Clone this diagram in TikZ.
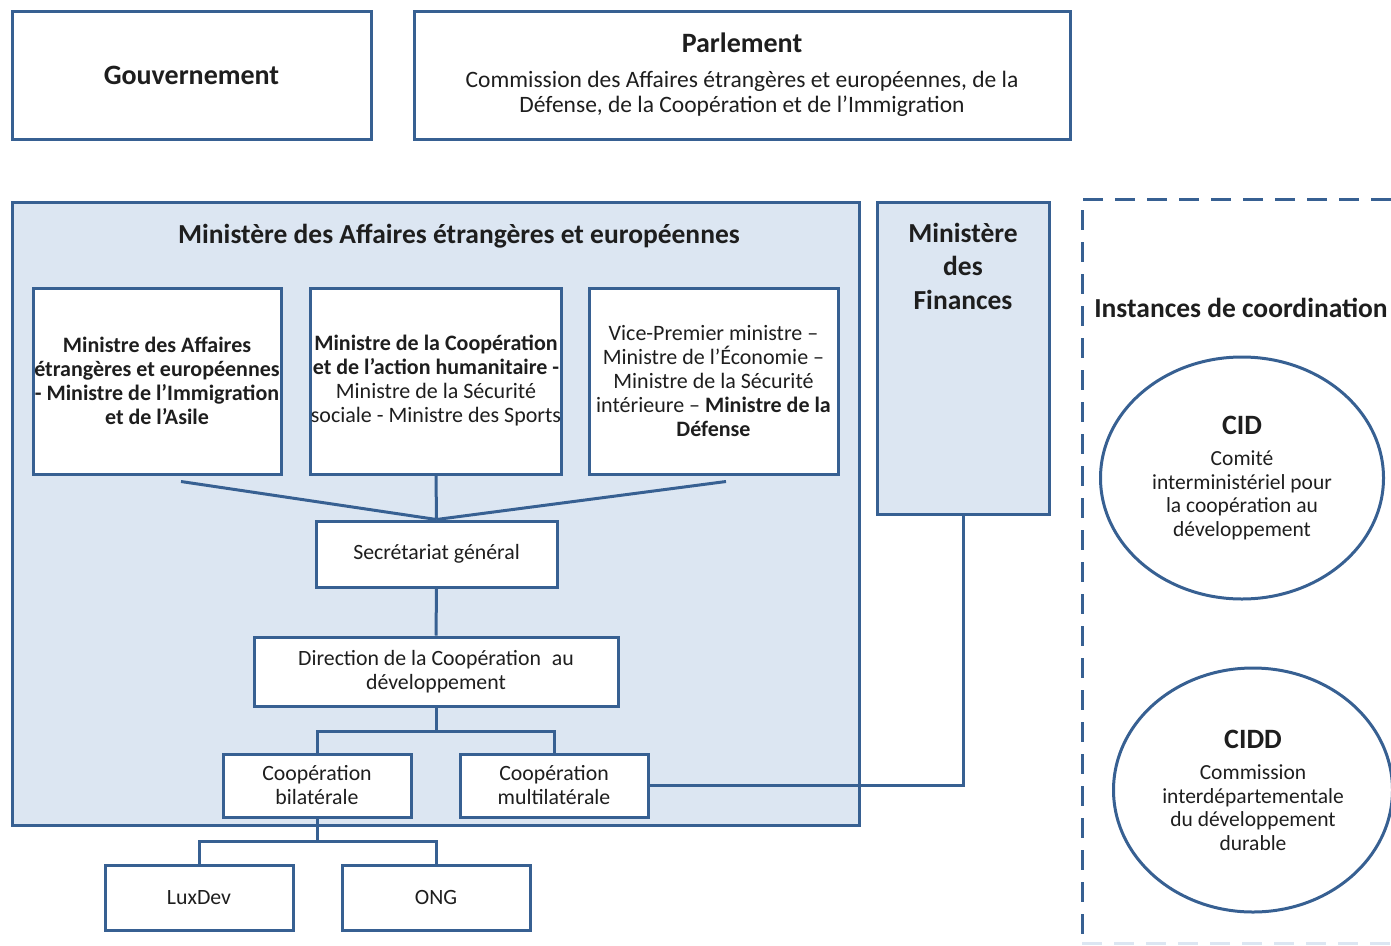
\documentclass[tikz,border=0pt]{standalone}
\usepackage{fontspec}
\setmainfont{Carlito}
\usetikzlibrary{shapes.geometric,calc}
\definecolor{bord}{RGB}{55,96,146}
\definecolor{fillb}{RGB}{220,230,242}
\definecolor{txt}{RGB}{30,30,30}
\tikzset{
  box/.style={draw=bord, line width=3pt, fill=white, rectangle, inner sep=0pt, align=center, text=txt},
  bluebox/.style={draw=bord, line width=3pt, fill=fillb, rectangle, inner sep=0pt},
  conn/.style={draw=bord, line width=3pt},
  oval/.style={draw=bord, line width=3pt, ellipse, inner sep=0pt, align=center, text=txt},
  ttl/.style={font=\fontsize{27.5}{33}\selectfont\bfseries, text=txt, align=center, inner sep=0pt},
  fs/.style={font=\fontsize{21.8}{24}\selectfont},
}
\begin{document}
\begin{tikzpicture}[x=1pt,y=-1pt]
\useasboundingbox (0,0) rectangle (1391,945);
% top boxes
\node[box, minimum width=359, minimum height=128, font=\fontsize{28}{32}\selectfont\bfseries] (gouv) at (191.5,75) {Gouvernement};
\node[box, minimum width=656, minimum height=128] (parl) at (742,75) {};
\node[ttl, font=\fontsize{28}{32}\selectfont\bfseries] (parlt) at (742,43) {Parlement};
\node[inner sep=0pt, align=center, text=txt, font=\fontsize{23.5}{25}\selectfont] (parlc) at (742,94) {Commission des Affaires étrangères et européennes, de la\\Défense, de la Coopération et de l’Immigration};
% big boxes
\node[bluebox, minimum width=847, minimum height=623] (maee) at (435.5,513.5) {};
\node[ttl] (maeet) at (459,236) {Ministère des Affaires étrangères et européennes};
\node[bluebox, minimum width=172, minimum height=312] (fin) at (963,358) {};
\node[ttl, font=\fontsize{27.5}{33.5}\selectfont\bfseries] (fint) at (963,266) {Ministère\\des\\Finances};
% dashed coordination area
\coordinate (dtr) at (1391,199);
\coordinate (dtl) at (1082,199);
\coordinate (dbl) at (1082,943);
\coordinate (dbr) at (1391,943);
\draw[bord, line width=3pt, dash pattern=on 20pt off 12pt] (dtr) -- (dtl) -- (dbl);
\draw[fillb, line width=3pt, dash pattern=on 20pt off 12pt] (dbl) -- (dbr);
\node[ttl] (inst) at (1241,308) {Instances de coordination};
\node[oval, minimum width=283, minimum height=242, font=\fontsize{21.5}{23.5}\selectfont] (cid) at (1242,478) {{\fontsize{28}{30}\selectfont\bfseries CID}\\[8pt]Comité\\interministériel pour\\la coopération au\\développement};
\node[oval, minimum width=279, minimum height=244, font=\fontsize{21.5}{23.5}\selectfont] (cidd) at (1253,790) {{\fontsize{28}{30}\selectfont\bfseries CIDD}\\[8pt]Commission\\interdépartementale\\du développement\\durable};
% minister boxes
\node[box, minimum width=248, minimum height=186, font=\fontsize{22}{24}\selectfont\bfseries] (m1) at (157,381) {Ministre des Affaires\\étrangères et européennes\\- Ministre de l’Immigration\\et de l’Asile};
\node[box, minimum width=250, minimum height=186, font=\fontsize{22}{24}\selectfont] (m2) at (436,381) {\textbf{Ministre de la Coopération}\\\textbf{et de l’action humanitaire -}\\Ministre de la Sécurité\\sociale - Ministre des Sports};
\node[box, minimum width=249, minimum height=186, font=\fontsize{22}{24}\selectfont] (m3) at (713.5,381) {Vice-Premier ministre –\\Ministre de l’Économie –\\Ministre de la Sécurité\\intérieure – \textbf{Ministre de la}\\\textbf{Défense}};
% hierarchy
\node[box, minimum width=241, minimum height=66, fs] (sg) at (436.5,554) {Secrétariat général};
\node[box, minimum width=364, minimum height=69, fs] (dir) at (436,671.5) {Direction de la Coopération\enspace au\\développement};
\node[box, minimum width=188, minimum height=63, fs] (bil) at (317,785.5) {Coopération\\bilatérale};
\node[box, minimum width=188, minimum height=63, fs] (mul) at (554,785.5) {Coopération\\multilatérale};
\node[box, minimum width=188, minimum height=65, fs] (lux) at (199,897.5) {LuxDev};
\node[box, minimum width=188, minimum height=65, fs] (ong) at (436,897.5) {ONG};
% connectors
\draw[conn] ($(m1.south)+(24,6)$) -- (sg.north);
\draw[conn] (m2.south) -- (sg.north);
\draw[conn] ($(m3.south)+(12.5,6)$) -- (sg.north);
\draw[conn] (sg.south) -- (dir.north);
\draw[conn] (dir.south) -- ++(0,24) -| (bil.north);
\draw[conn] (dir.south) -- ++(0,24) -| (mul.north);
\draw[conn] (mul.east) -| (fin.south);
\draw[conn] (bil.south) -- ++(0,23) -| (lux.north);
\draw[conn] (bil.south) -- ++(0,23) -| (ong.north);
\end{tikzpicture}
\end{document}
